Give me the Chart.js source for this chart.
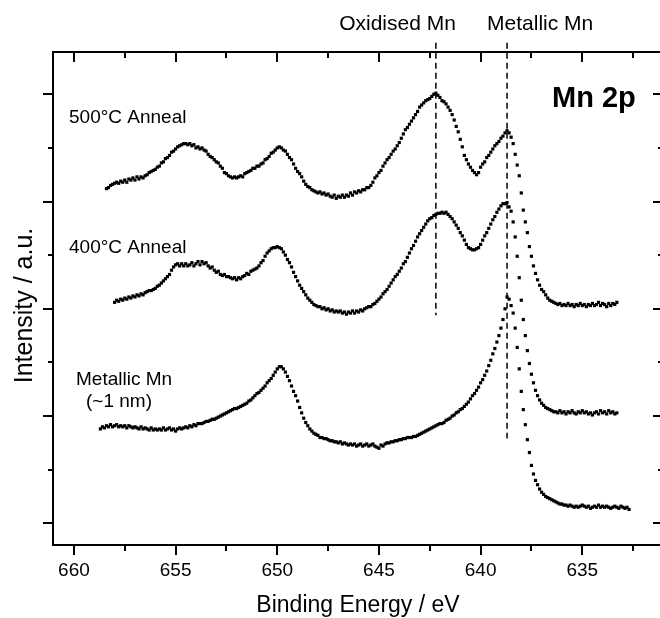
<!DOCTYPE html>
<html><head><meta charset="utf-8">
<script src="https://cdn.jsdelivr.net/npm/chart.js@4/dist/chart.umd.min.js"></script>
<style>html,body{margin:0;padding:0;background:#fff;overflow:hidden;width:660px;height:618px}canvas{display:block}</style>
</head><body>
<canvas id="c" width="670" height="618" style="width:670px;height:618px"></canvas>
<script>
// Binding energy grid (eV)
const energies = [
658.7,658.6,658.5,658.4,658.3,658.2,658.1,658.0,
657.9,657.8,657.7,657.6,657.5,657.4,657.3,657.2,657.1,657.0,
656.9,656.8,656.7,656.6,656.5,656.4,656.3,656.2,656.1,656.0,
655.9,655.8,655.7,655.6,655.5,655.4,655.3,655.2,655.1,655.0,
654.9,654.8,654.7,654.6,654.5,654.4,654.3,654.2,654.1,654.0,
653.9,653.8,653.7,653.6,653.5,653.4,653.3,653.2,653.1,653.0,
652.9,652.8,652.7,652.6,652.5,652.4,652.3,652.2,652.1,652.0,
651.9,651.8,651.7,651.6,651.5,651.4,651.3,651.2,651.1,651.0,
650.9,650.8,650.7,650.6,650.5,650.4,650.3,650.2,650.1,650.0,
649.9,649.8,649.7,649.6,649.5,649.4,649.3,649.2,649.1,649.0,
648.9,648.8,648.7,648.6,648.5,648.4,648.3,648.2,648.1,648.0,
647.9,647.8,647.7,647.6,647.5,647.4,647.3,647.2,647.1,647.0,
646.9,646.8,646.7,646.6,646.5,646.4,646.3,646.2,646.1,646.0,
645.9,645.8,645.7,645.6,645.5,645.4,645.3,645.2,645.1,645.0,
644.9,644.8,644.7,644.6,644.5,644.4,644.3,644.2,644.1,644.0,
643.9,643.8,643.7,643.6,643.5,643.4,643.3,643.2,643.1,643.0,
642.9,642.8,642.7,642.6,642.5,642.4,642.3,642.2,642.1,642.0,
641.9,641.8,641.7,641.6,641.5,641.4,641.3,641.2,641.1,641.0,
640.9,640.8,640.7,640.6,640.5,640.4,640.3,640.2,640.1,640.0,
639.9,639.8,639.7,639.6,639.5,639.4,639.3,639.2,639.1,639.0,
638.9,638.8,638.7,638.6,638.5,638.4,638.3,638.2,638.1,638.0,
637.9,637.8,637.7,637.6,637.5,637.4,637.3,637.2,637.1,637.0,
636.9,636.8,636.7,636.6,636.5,636.4,636.3,636.2,636.1,636.0,
635.9,635.8,635.7,635.6,635.5,635.4,635.3,635.2,635.1,635.0,
634.9,634.8,634.7,634.6,634.5,634.4,634.3,634.2,634.1,634.0,
633.9,633.8,633.7,633.6,633.5,633.4,633.3,633.2,633.1,633.0,
632.9,632.8,632.7];

// Intensity (a.u., offset spectra)
const int500 = [
null,null,null,3.12,3.13,3.15,3.16,3.17,
3.18,3.17,3.19,3.18,3.20,3.18,3.21,3.20,3.22,3.20,
3.23,3.21,3.23,3.22,3.24,3.25,3.27,3.28,3.29,3.30,
3.32,3.33,3.36,3.37,3.40,3.41,3.43,3.46,3.47,3.49,
3.51,3.52,3.53,3.54,3.54,3.53,3.54,3.52,3.53,3.50,
3.51,3.49,3.50,3.48,3.47,3.44,3.42,3.41,3.39,3.37,
3.36,3.33,3.31,3.27,3.26,3.24,3.23,3.22,3.23,3.22,
3.23,3.24,3.23,3.26,3.27,3.28,3.29,3.31,3.31,3.33,
3.33,3.35,3.36,3.39,3.40,3.42,3.45,3.46,3.48,3.50,
3.51,3.50,3.48,3.47,3.44,3.41,3.39,3.35,3.31,3.28,
3.26,3.23,3.19,3.16,3.14,3.13,3.11,3.10,3.09,3.08,
3.09,3.07,3.08,3.06,3.07,3.05,3.04,3.06,3.03,3.05,
3.04,3.06,3.04,3.06,3.05,3.08,3.06,3.09,3.08,3.10,
3.09,3.11,3.11,3.13,3.13,3.15,3.18,3.22,3.24,3.27,
3.29,3.33,3.36,3.39,3.41,3.44,3.47,3.49,3.52,3.55,
3.59,3.63,3.67,3.69,3.72,3.75,3.78,3.81,3.84,3.88,
3.90,3.92,3.94,3.95,3.96,3.98,4.00,4.01,3.99,3.97,
3.94,3.93,3.91,3.88,3.85,3.81,3.76,3.70,3.65,3.58,
3.51,3.43,3.39,3.35,3.32,3.29,3.27,3.25,3.27,3.32,
3.35,3.37,3.41,3.43,3.46,3.49,3.52,3.54,3.56,3.59,
3.61,3.64,3.66,3.64,3.60,3.54,3.44,3.34,3.24,3.08,
2.92,2.81,2.71,2.58,2.49,2.40,2.33,2.27,2.22,2.18,
2.16,2.13,2.10,2.08,2.07,2.06,2.05,2.04,2.05,2.03,
2.04,2.03,2.05,2.03,2.04,2.02,2.04,2.03,2.05,2.03,
2.04,2.02,2.04,2.03,2.05,2.03,2.04,2.06,2.03,2.05,
2.04,2.02,2.05,2.03,2.05,2.04,2.06,null,null,null,
null,null,null];

const int400 = [
null,null,null,null,null,null,null,2.06,
2.08,2.07,2.09,2.08,2.10,2.09,2.11,2.10,2.12,2.11,
2.13,2.12,2.14,2.13,2.15,2.16,2.17,2.17,2.18,2.19,
2.21,2.22,2.24,2.26,2.28,2.30,2.32,2.36,2.39,2.41,
2.42,2.40,2.42,2.40,2.42,2.40,2.41,2.43,2.40,2.42,
2.44,2.41,2.44,2.42,2.43,2.40,2.38,2.39,2.36,2.34,
2.35,2.32,2.31,2.32,2.30,2.30,2.29,2.28,2.29,2.27,
2.29,2.28,2.30,2.31,2.33,2.32,2.35,2.36,2.37,2.38,
2.40,2.43,2.45,2.49,2.52,2.54,2.56,2.57,2.57,2.58,
2.57,2.56,2.53,2.50,2.46,2.43,2.39,2.34,2.30,2.26,
2.22,2.19,2.16,2.13,2.10,2.08,2.06,2.04,2.03,2.02,
2.02,2.00,2.01,1.99,2.00,1.98,1.99,1.97,1.98,1.97,
1.98,1.96,1.97,1.95,1.97,1.96,1.98,1.96,1.98,1.97,
1.99,1.98,2.00,2.01,2.02,2.02,2.04,2.05,2.07,2.09,
2.11,2.14,2.16,2.18,2.21,2.24,2.27,2.30,2.32,2.35,
2.38,2.42,2.44,2.48,2.52,2.56,2.59,2.63,2.67,2.70,
2.73,2.76,2.79,2.82,2.84,2.85,2.87,2.88,2.89,2.89,
2.90,2.89,2.90,2.88,2.86,2.84,2.81,2.78,2.75,2.71,
2.68,2.64,2.60,2.57,2.56,2.55,2.55,2.56,2.57,2.60,
2.64,2.68,2.71,2.75,2.79,2.83,2.86,2.90,2.93,2.96,
2.98,2.98,2.99,2.95,2.91,2.81,2.67,2.49,2.29,2.08,
1.90,1.75,1.61,1.49,1.39,1.31,1.24,1.19,1.15,1.12,
1.10,1.08,1.07,1.06,1.05,1.04,1.04,1.03,1.05,1.03,
1.04,1.02,1.04,1.03,1.05,1.03,1.02,1.04,1.03,1.05,
1.03,1.04,1.02,1.03,1.01,1.03,1.04,1.02,1.05,1.03,
1.04,1.02,1.05,1.03,1.04,1.02,1.03,null,null,null,
null,null,null];

const intMetal = [
0.88,0.90,0.89,0.91,0.90,0.92,0.90,0.91,
0.92,0.90,0.91,0.90,0.91,0.89,0.91,0.90,0.89,0.90,
0.89,0.88,0.90,0.88,0.89,0.88,0.87,0.89,0.87,0.88,
0.87,0.88,0.87,0.89,0.87,0.88,0.89,0.87,0.88,0.86,
0.88,0.89,0.88,0.89,0.90,0.89,0.91,0.90,0.92,0.91,
0.93,0.93,0.93,0.94,0.95,0.95,0.96,0.97,0.97,0.98,
0.99,1.00,1.01,1.02,1.03,1.04,1.05,1.06,1.07,1.07,
1.08,1.09,1.10,1.11,1.12,1.14,1.15,1.17,1.19,1.21,
1.22,1.24,1.26,1.28,1.31,1.33,1.35,1.38,1.41,1.44,
1.46,1.46,1.44,1.41,1.37,1.33,1.28,1.23,1.19,1.14,
1.08,1.03,0.98,0.94,0.91,0.88,0.86,0.84,0.83,0.82,
0.80,0.80,0.79,0.79,0.78,0.77,0.77,0.76,0.76,0.75,
0.76,0.74,0.75,0.74,0.73,0.74,0.73,0.74,0.72,0.73,
0.74,0.72,0.73,0.74,0.72,0.73,0.74,0.72,0.71,0.70,
0.73,0.72,0.74,0.75,0.75,0.76,0.76,0.77,0.77,0.78,
0.78,0.79,0.79,0.80,0.80,0.80,0.81,0.81,0.82,0.83,
0.84,0.85,0.86,0.87,0.88,0.89,0.90,0.91,0.92,0.93,
0.93,0.94,0.96,0.97,0.98,1.00,1.01,1.03,1.04,1.06,
1.07,1.09,1.11,1.13,1.16,1.19,1.21,1.24,1.27,1.31,
1.34,1.38,1.42,1.47,1.52,1.58,1.63,1.69,1.75,1.82,
1.90,2.00,2.11,2.09,2.03,1.96,1.82,1.64,1.44,1.23,
1.06,0.92,0.78,0.66,0.54,0.46,0.40,0.36,0.32,0.29,
0.27,0.25,0.24,0.23,0.22,0.21,0.20,0.19,0.18,0.18,
0.17,0.17,0.16,0.17,0.16,0.15,0.16,0.15,0.16,0.17,
0.16,0.15,0.16,0.14,0.15,0.16,0.15,0.17,0.15,0.16,
0.15,0.16,0.15,0.14,0.15,0.16,0.15,0.14,0.16,0.15,
0.14,0.15,0.13];

const seriesNames = ['500°C Anneal', '400°C Anneal', 'Metallic Mn', '(~1 nm)'];
const xTickLabels = [660, 655, 650, 645, 640, 635];
const xMinorTicks = [657.5, 652.5, 647.5, 642.5, 637.5, 632.5];
const yMajorTicks = [0, 1, 2, 3, 4];
const yMinorTicks = [0.5, 1.5, 2.5, 3.5];
const markerEnergies = [642.2, 638.7];
const markerLabels = ['Oxidised Mn', 'Metallic Mn'];
const markerTop = [4.48, 4.48];
const markerBottom = [1.94, 0.79];

const FONT = '"Liberation Sans", Arial, Helvetica, sans-serif';
Chart.defaults.font.family = FONT;
Chart.defaults.color = '#000';

const decor = {
  id: 'decor',
  afterDraw(chart) {
    const {ctx, chartArea: a, scales: {x, y}} = chart;
    ctx.save();
    ctx.strokeStyle = '#000';
    ctx.lineWidth = 2;
    ctx.strokeRect(a.left, a.top, a.right - a.left, a.bottom - a.top);
    const seg = (x1, y1, x2, y2) => { ctx.beginPath(); ctx.moveTo(x1, y1); ctx.lineTo(x2, y2); ctx.stroke(); };
    const xt = (v, len) => { const p = Math.round(x.getPixelForValue(v)); seg(p, a.bottom, p, a.bottom + len); seg(p, a.top, p, a.top + len); };
    xTickLabels.forEach(v => xt(v, 10));
    xMinorTicks.forEach(v => xt(v, 6));
    const yt = (v, len) => { const p = Math.round(y.getPixelForValue(v)); seg(a.left - len, p, a.left, p); seg(a.right - len, p, a.right, p); };
    yMajorTicks.forEach(v => yt(v, 10));
    yMinorTicks.forEach(v => yt(v, 5));

    ctx.fillStyle = '#000';
    ctx.textBaseline = 'alphabetic';
    ctx.textAlign = 'left';
    ctx.font = '19px ' + FONT;
    ctx.fillText(seriesNames[0], 69, 123);
    ctx.fillText(seriesNames[1], 69, 253);
    ctx.fillText(seriesNames[2], 76, 385);
    ctx.fillText(seriesNames[3], 86, 407);

    ctx.font = 'bold 29px ' + FONT;
    ctx.fillText('Mn 2p', 552, 107);

    ctx.font = '21px ' + FONT;
    ctx.textAlign = 'right';
    ctx.fillText(markerLabels[0], x.getPixelForValue(markerEnergies[0]) + 20, 30);
    ctx.textAlign = 'left';
    ctx.fillText(markerLabels[1], x.getPixelForValue(markerEnergies[1]) - 20, 30);

    ctx.save();
    ctx.translate(31.7, 305.5);
    ctx.rotate(-Math.PI / 2);
    ctx.textAlign = 'center';
    ctx.font = '25px ' + FONT;
    ctx.fillText('Intensity / a.u.', 0, 0);
    ctx.restore();
    ctx.restore();
  }
};

const pointDs = (label, data) => ({
  label, data, showLine: false, pointStyle: 'rect', pointRadius: 2.25, pointHoverRadius: 2.25,
  pointBackgroundColor: '#000', pointBorderWidth: 0, borderColor: '#000', backgroundColor: '#000'
});
const markerDs = i => ({
  label: markerLabels[i],
  data: [{x: markerEnergies[i], y: markerTop[i]}, {x: markerEnergies[i], y: markerBottom[i]}],
  showLine: true, borderColor: '#000', borderWidth: 1.5, borderDash: [6, 4],
  pointRadius: 0, clip: false, fill: false
});

new Chart(document.getElementById('c'), {
  type: 'line',
  data: {
    labels: energies,
    datasets: [
      pointDs(seriesNames[0], int500),
      pointDs(seriesNames[1], int400),
      pointDs(seriesNames[2] + ' ' + seriesNames[3], intMetal),
      markerDs(0), markerDs(1)
    ]
  },
  options: {
    responsive: false, animation: false, devicePixelRatio: 1, events: [],
    layout: {padding: {left: 0, top: 52, right: 7, bottom: 0}, autoPadding: false},
    plugins: {legend: {display: false}, tooltip: {enabled: false}},
    scales: {
      x: {
        type: 'linear', position: 'bottom', reverse: true, min: 631.03, max: 661.03,
        afterBuildTicks: s => { s.ticks = xTickLabels.map(v => ({value: v})); },
        afterFit: s => { s.height = 73; },
        grid: {display: false, drawTicks: true, tickLength: 10},
        border: {display: false},
        ticks: {font: {size: 19}, color: '#000', padding: 4, maxRotation: 0, minRotation: 0, autoSkip: false},
        title: {display: true, text: 'Binding Energy / eV', font: {size: 23, lineHeight: 1.1}, color: '#000', padding: 0}
      },
      y: {
        type: 'linear', min: -0.202, max: 4.394,
        afterFit: s => { s.width = 53; },
        grid: {display: false, drawTicks: false},
        border: {display: false},
        ticks: {display: false},
        title: {display: false}
      }
    }
  },
  plugins: [decor]
});
</script>
</body></html>
